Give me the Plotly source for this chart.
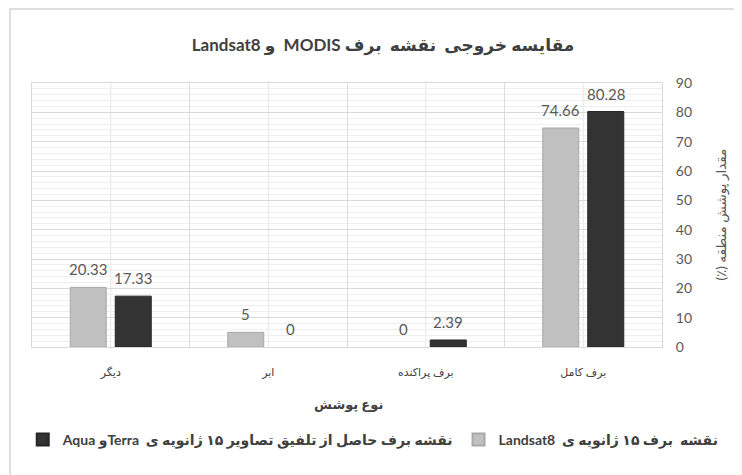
import plotly.graph_objects as go

RLE, PDF = "\u202B", "\u202C"

categories = ["دیگر", "ابر", "برف پراکنده", "برف کامل"]
landsat_values = [20.33, 5, 0, 74.66]
fusion_values = [17.33, 0, 2.39, 80.28]
series_names = ["نقشه  برف ۱۵ ژانویه ی  Landsat8",
                "نقشه برف حاصل از تلفیق تصاویر ۱۵ ژانویه ی  Terraو Aqua"]
title_text = "مقایسه خروجی  نقشه  برف MODIS  و Landsat8"
x_title = "نوع پوشش"
y_title = "مقدار پوشش منطقه (٪)"
y_ticks = [0, 10, 20, 30, 40, 50, 60, 70, 80, 90]

FONT = "Lato, 'DejaVu Sans', sans-serif"
W, H = 734, 467
ML, MR, MT, MB = 24, 80, 75, 128
BARGAP, GROUPGAP = 0.4286, 0.2

def rtl(s):
    return RLE + s + PDF

def edge_widths(vals):
    return [1 if v > 0 else 0 for v in vals]

fig = go.Figure()
fig.add_trace(go.Bar(
    x=categories, y=landsat_values, name="<b>" + rtl(series_names[0]) + "</b>",
    marker=dict(color="#c0c0c0", line=dict(color="#a8a8a8", width=edge_widths(landsat_values))),
))
fig.add_trace(go.Bar(
    x=categories, y=fusion_values, name="<b>" + rtl(series_names[1]) + "</b>",
    marker=dict(color="#333333", line=dict(color="#262626", width=edge_widths(fusion_values))),
))

# data labels, placed above each bar of the group
cat_px = (W - ML - MR) / len(categories)
slot_px = cat_px * (1 - BARGAP) / 2
annotations = []
for series, sign in ((landsat_values, -1), (fusion_values, 1)):
    for c, v in zip(categories, series):
        annotations.append(dict(
            x=c, y=v, xref="x", yref="y", text=f"{v:g}", showarrow=False,
            xshift=sign * slot_px / 2, yshift=18, yanchor="middle",
            font=dict(size=15, color="#595959", family=FONT)))

# vertical grid lines at category centres
for c in categories:
    fig.add_shape(type="line", xref="x", yref="paper", x0=c, x1=c, y0=0, y1=1,
                  line=dict(color="#e6e6e6", width=1), layer="below")

# outer chart border
fig.add_shape(type="rect", xref="paper", yref="paper",
              x0=-0.0349, x1=1.14, y0=-0.55, y1=1.280,
              line=dict(color="#d4d4d4", width=1.5), layer="below")

annotations += [
    dict(text="<b>" + x_title + "</b>", xref="paper", yref="paper",
         x=0.503, y=-0.216, yanchor="middle", showarrow=False,
         font=dict(size=13, color="#404040", family=FONT)),
    dict(text=rtl(y_title), xref="paper", yref="paper", x=1.093, y=0.5,
         xanchor="center", yanchor="middle",
         textangle=-90, showarrow=False,
         font=dict(size=13.5, color="#595959", family=FONT)),
]

fig.update_layout(
    width=W, height=H,
    margin=dict(l=ML, r=MR, t=MT, b=MB),
    paper_bgcolor="white", plot_bgcolor="white",
    font=dict(family=FONT, color="#595959"),
    barmode="group", bargap=BARGAP, bargroupgap=GROUPGAP,
    title=dict(text="<b>" + rtl(title_text) + "</b>", x=0.511, xanchor="center",
               y=0.9208, yanchor="middle",
               font=dict(size=17, color="#404040", family=FONT)),
    showlegend=True,
    legend=dict(orientation="h", x=1.098, xanchor="right", y=-0.352, yanchor="middle",
                traceorder="reversed",
                font=dict(size=14, color="#404040", family=FONT),
                itemsizing="constant"),
    xaxis=dict(type="category", tickson="boundaries", showgrid=True, gridcolor="#dcdcdc",
               showline=True, linecolor="#d9d9d9", mirror=True,
               ticks="", ticklabelstandoff=15,
               tickfont=dict(size=11, color="#404040", family=FONT)),
    yaxis=dict(side="right", range=[0, 90], tickvals=y_ticks, showgrid=True,
               gridcolor="#d9d9d9", showline=True, linecolor="#d9d9d9", mirror=True,
               zeroline=False, ticks="", ticklabelstandoff=10,
               tickfont=dict(size=14, color="#595959", family=FONT),
               minor=dict(dtick=2, showgrid=True, gridcolor="#efefef")),
    annotations=annotations,
)

fig.write_html("out.html")
